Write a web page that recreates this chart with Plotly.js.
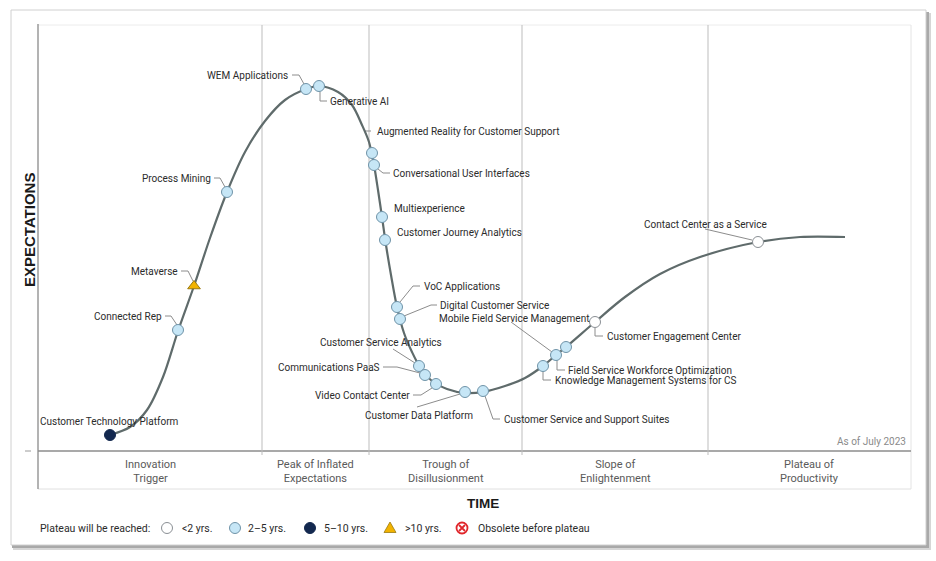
<!DOCTYPE html>
<html>
<head>
<meta charset="utf-8">
<script src="https://cdn.plot.ly/plotly-3.0.1.min.js"></script>
<style>html,body{margin:0;padding:0;background:#fff;}#chart{width:936px;height:561px;}</style>
</head>
<body>
<div id="chart"></div>
<script>
// ---------- DATA (time units 0..872, expectation units 0..426) ----------
const curveX = [72, 92, 109, 125, 140, 156, 172, 189, 207, 227, 247, 268, 281, 300, 314, 324, 331, 336, 340, 344, 348, 353, 359, 366, 374, 382, 394, 409, 427, 445, 467, 487, 505, 518, 528, 557, 587, 622, 662, 720, 762, 807];
const curveY = [16, 24, 41, 74, 120, 165, 213, 259, 299, 330, 351, 362, 365, 359, 346, 326, 309, 286, 261, 234, 206, 176, 144, 118, 99, 84, 70, 62, 58, 59, 65, 73, 85, 96, 104, 129, 154, 177, 194, 209, 214, 214];

const techNames = [
  "Customer Technology Platform", "Connected Rep", "Metaverse", "Process Mining",
  "WEM Applications", "Generative AI", "Augmented Reality for Customer Support",
  "Conversational User Interfaces", "Multiexperience", "Customer Journey Analytics",
  "VoC Applications", "Digital Customer Service", "Customer Service Analytics",
  "Communications PaaS", "Video Contact Center", "Customer Data Platform",
  "Customer Service and Support Suites", "Knowledge Management Systems for CS",
  "Mobile Field Service Management", "Field Service Workforce Optimization",
  "Customer Engagement Center", "Contact Center as a Service"
];
const techX = [72, 140, 156, 189, 268, 281, 334, 336, 344, 347, 359, 362, 381, 387, 398, 427, 445, 505, 518, 528, 557, 720];
const techY = [16, 121, 165, 259, 362, 365, 298, 286, 234, 211, 144, 132, 85, 76, 67, 59, 60, 85, 96, 104, 129, 209];
const techPlateau = ["5-10", "2-5", ">10", "2-5", "2-5", "2-5", "2-5", "2-5", "2-5", "2-5", "2-5", "2-5", "2-5", "2-5", "2-5", "2-5", "2-5", "2-5", "2-5", "2-5", "<2", "<2"];

const phaseNames = ["Innovation<br>Trigger", "Peak of Inflated<br>Expectations", "Trough of<br>Disillusionment", "Slope of<br>Enlightenment", "Plateau of<br>Productivity"];
const phaseBounds = [0, 224, 331, 484, 670, 872];

const legendCats = ["<2", "2-5", "5-10", ">10", "obsolete"];
const legendLabels = ["<2 yrs.", "2\u20135 yrs.", "5\u201310 yrs.", ">10 yrs.", "Obsolete before plateau"];

// ---------- LAYOUT HELPERS (picture pixel -> axis / paper) ----------
const L = 38, T = 25, W = 872, H = 426;
const dx = px => px - L;
const dy = py => (T + H) - py;
const pxp = px => (px - L) / W;
const pyp = py => (T + H - py) / H;

const catStyle = {
  "<2":   {symbol: "circle", color: "#ffffff", line: "#8a8f94", size: 11},
  "2-5":  {symbol: "circle", color: "#c6e6f6", line: "#6f93a8", size: 11},
  "5-10": {symbol: "circle", color: "#13284f", line: "#13284f", size: 11},
  ">10":  {symbol: "triangle-up", color: "#f2b300", line: "#9a7a10", size: 11},
  "obsolete": {symbol: "circle-x-open", color: "#ffffff", line: "#e0262b", size: 10}
};

// label placement: [text left/right pixel x, pixel y, anchor, leader polyline in pixels]
const labelLayout = [
  [39, 421, "left", []],
  [163, 316, "right", [[165,316],[171,316],[177,325]]],
  [179, 271, "right", [[181,271],[188,271],[193,281]]],
  [212, 178, "right", [[214,178],[220,178],[225,187]]],
  [289, 75, "right", [[292,75],[299,75],[304,84]]],
  [329, 101, "left", [[320,92],[320,101],[327,101]]],
  [376, 131, "left", [[364,131],[371,131]]],
  [392, 173, "left", [[378,169],[383,173],[390,173]]],
  [393, 208, "left", []],
  [396, 232, "left", []],
  [423, 286, "left", [[400,302],[413,286],[420,286]]],
  [439, 305, "left", [[404,316],[431,305],[437,305]]],
  [319, 342, "left", [[393,349],[415,363]]],
  [381, 367, "right", [[383,367],[397,367],[420,373]]],
  [411, 395, "right", [[413,395],[421,395],[432,388]]],
  [364, 415, "left", [[417,407],[460,394]]],
  [503, 419, "left", [[485,396],[493,419],[500,419]]],
  [554, 380, "left", [[543,371],[543,380],[551,380]]],
  [438, 318, "left", [[511,322],[552,352]]],
  [567, 370, "left", [[557,360],[557,370],[565,370]]],
  [606, 336, "left", [[595,328],[595,336],[603,336]]],
  [643, 224, "left", [[705,229],[752,240]]]
];

// ---------- TRACES ----------
const traces = [];

// leader lines
const lx = [], ly = [];
labelLayout.forEach(l => {
  if (l[3].length) {
    l[3].forEach(p => { lx.push(dx(p[0])); ly.push(dy(p[1])); });
    lx.push(null); ly.push(null);
  }
});
traces.push({x: lx, y: ly, mode: "lines", line: {color: "#8c8c8c", width: 1}, hoverinfo: "skip", showlegend: false});

// hype curve
traces.push({x: curveX, y: curveY, mode: "lines", line: {color: "#5f6b6b", width: 2.2, shape: "spline", smoothing: 0.9}, hoverinfo: "skip", showlegend: false});

// technology points by category
["2-5", "<2", "5-10", ">10"].forEach(cat => {
  const xs = [], ys = [], ns = [];
  techNames.forEach((n, i) => { if (techPlateau[i] === cat) { xs.push(techX[i]); ys.push(techY[i]); ns.push(n); } });
  const s = catStyle[cat];
  traces.push({x: xs, y: ys, text: ns, mode: "markers", hoverinfo: "text", showlegend: false, cliponaxis: false,
    marker: {symbol: s.symbol, size: s.size, color: s.color, line: {color: s.line, width: 1}}});
});

// ---------- ANNOTATIONS ----------
const ann = [];
const labFont = {family: "Roboto, 'Liberation Sans', sans-serif", size: 10, color: "#2b2b2b"};
techNames.forEach((n, i) => {
  const l = labelLayout[i];
  ann.push({x: dx(l[0]), y: dy(l[1]), xref: "x", yref: "y", text: n, showarrow: false,
    xanchor: l[2], yanchor: "middle", font: labFont, borderpad: 0});
});
phaseNames.forEach((p, i) => {
  const c = (phaseBounds[i] + phaseBounds[i + 1]) / 2;
  ann.push({x: c / W, y: pyp(471), xref: "paper", yref: "paper", text: p, showarrow: false,
    xanchor: "center", yanchor: "middle", align: "center",
    font: {family: "Roboto, sans-serif", size: 11, color: "#5a5a5a"}});
});
ann.push({x: pxp(908), y: pyp(441), xref: "paper", yref: "paper", text: "As of July 2023", showarrow: false,
  xanchor: "right", yanchor: "middle", font: {family: "Roboto, sans-serif", size: 10, color: "#8a8a8a"}});
ann.push({x: pxp(483), y: pyp(504), xref: "paper", yref: "paper", text: "<b>TIME</b>", showarrow: false,
  xanchor: "center", yanchor: "middle", font: {family: "'Liberation Sans', Arial, sans-serif", size: 13.5, color: "#1a1a1a"}});
ann.push({x: pxp(30), y: pyp(230), xref: "paper", yref: "paper", text: "<b>EXPECTATIONS</b>", showarrow: false, textangle: -90,
  xanchor: "center", yanchor: "middle", font: {family: "'Liberation Sans', Arial, sans-serif", size: 15, color: "#1a1a1a"}});
ann.push({x: pxp(38), y: pyp(528), xref: "paper", yref: "paper", text: "Plateau will be reached:", showarrow: false,
  xanchor: "left", yanchor: "middle", font: {family: "Roboto, sans-serif", size: 10.5, color: "#2b2b2b"}});
const legendTextPx = [180, 246, 322, 403, 476];
legendLabels.forEach((t, i) => {
  ann.push({x: pxp(legendTextPx[i]), y: pyp(528), xref: "paper", yref: "paper", text: t, showarrow: false,
    xanchor: "left", yanchor: "middle", font: {family: "Roboto, sans-serif", size: 10.5, color: "#2b2b2b"}});
});

// ---------- SHAPES ----------
const shapes = [];
const rect = (x0, y0, x1, y1, fill, line, lw) => ({type: "rect", xref: "paper", yref: "paper", layer: "below",
  x0: pxp(x0), x1: pxp(x1), y0: pyp(y1), y1: pyp(y0), fillcolor: fill, line: {color: line, width: lw}});
const seg = (x0, y0, x1, y1, color, w) => ({type: "line", xref: "paper", yref: "paper", layer: "below",
  x0: pxp(x0), x1: pxp(x1), y0: pyp(y0), y1: pyp(y1), line: {color: color, width: w}});
// card shadow + card
shapes.push(rect(13, 13, 931, 550, "#d6d6d6", "rgba(0,0,0,0)", 0));
shapes.push(rect(12, 12, 929, 548, "#a9a9a9", "rgba(0,0,0,0)", 0));
shapes.push(rect(11, 10, 926, 545, "#ffffff", "#d0d0d0", 1));
// plot frame
shapes.push(seg(38, 25, 911, 25, "#ececec", 1));
shapes.push(seg(911, 25, 911, 489, "#e4e4e4", 1));
shapes.push(seg(38, 489, 911, 489, "#e0e0e0", 1));
shapes.push(seg(38, 24, 38, 489, "#9a9a9a", 1.5));
shapes.push(seg(38, 451, 911, 451, "#8c8c8c", 1.5));
shapes.push(seg(25, 451, 31, 451, "#9a9a9a", 1));
// phase dividers
phaseBounds.slice(1, -1).forEach(b => {
  const px = b + L;
  shapes.push(seg(px, 25, px, 455, "#bdbdbd", 1));
});

// legend symbols (pixel-sized shapes anchored below the plot)
const legendMarkerPx = [167, 235, 310, 390, 462];
legendCats.forEach((cat, i) => {
  const s = catStyle[cat];
  const base = {xref: "paper", yref: "paper", xsizemode: "pixel", ysizemode: "pixel",
    xanchor: pxp(legendMarkerPx[i]), yanchor: pyp(528), layer: "above"};
  if (cat === ">10") {
    shapes.push(Object.assign({}, base, {type: "path", path: "M-6,-4.5 L6,-4.5 L0,6 Z",
      fillcolor: s.color, line: {color: s.line, width: 0.8}}));
  } else {
    shapes.push(Object.assign({}, base, {type: "circle", x0: -5.5, x1: 5.5, y0: -5.5, y1: 5.5,
      fillcolor: s.color, line: {color: s.line, width: cat === "obsolete" ? 1.8 : 1}}));
    if (cat === "obsolete") {
      shapes.push(Object.assign({}, base, {type: "path", path: "M-3,-3 L3,3 M-3,3 L3,-3",
        line: {color: s.line, width: 1.8}}));
    }
  }
});

const layout = {
  width: 936, height: 561,
  margin: {l: 38, r: 26, t: 25, b: 110, pad: 0},
  paper_bgcolor: "#ffffff", plot_bgcolor: "rgba(0,0,0,0)",
  showlegend: false,
  xaxis: {range: [0, W], visible: false, fixedrange: true},
  yaxis: {range: [0, H], visible: false, fixedrange: true},
  annotations: ann, shapes: shapes,
  hovermode: "closest"
};

Plotly.newPlot("chart", traces, layout, {displayModeBar: false});
</script>
</body>
</html>
